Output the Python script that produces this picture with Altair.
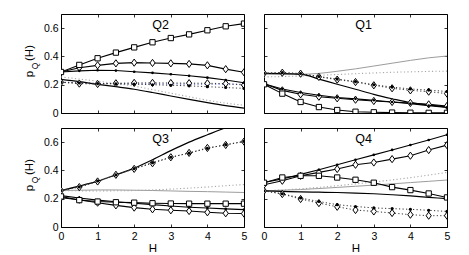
import altair as alt
import pandas as pd

# ---------------- data ----------------
H = [0, 0.5, 1, 1.5, 2, 2.5, 3, 3.5, 4, 4.5, 5]
X_TICKS = [0, 1, 2, 3, 4, 5]
Y_TICKS = [0, 0.2, 0.4, 0.6]
LABEL_H = 2.72
LABEL_V = 0.62

# Q2 (top-left)
q2_sq = [0.29, 0.34, 0.387, 0.427, 0.464, 0.50, 0.53, 0.556, 0.585, 0.613, 0.632]
q2_dm = [0.29, 0.32, 0.337, 0.351, 0.356, 0.354, 0.351, 0.347, 0.337, 0.31, 0.288]
q2_dt = [0.29, 0.298, 0.302, 0.30, 0.292, 0.284, 0.274, 0.263, 0.25, 0.233, 0.214]
q2_dm_dot = [0.217, 0.208, 0.205, 0.21, 0.213, 0.213, 0.212, 0.211, 0.21, 0.208, 0.198]
q2_dt_dot = [0.217, 0.212, 0.208, 0.206, 0.204, 0.2, 0.196, 0.192, 0.186, 0.18, 0.174]
q2_sm = [0.238, 0.222, 0.203, 0.186, 0.168, 0.145, 0.12, 0.096, 0.073, 0.052, 0.035]
q2_gr_dot = [0.255, 0.24, 0.225, 0.208, 0.19, 0.165, 0.14, 0.115, 0.09, 0.07, 0.055]
q2_bl_dot = [0.218, 0.214, 0.21, 0.208, 0.207, 0.206, 0.205, 0.204, 0.203, 0.203, 0.203]

# Q1 (top-right)
q1_sq = [0.203, 0.137, 0.078, 0.042, 0.021, 0.009, 0.005, 0.003, 0.002, 0.001, 0.001]
q1_dm = [0.207, 0.16, 0.132, 0.115, 0.104, 0.094, 0.085, 0.078, 0.071, 0.061, 0.05]
q1_dt = [0.207, 0.17, 0.145, 0.125, 0.11, 0.1, 0.09, 0.078, 0.066, 0.052, 0.04]
q1_dm_dot = [0.281, 0.285, 0.278, 0.255, 0.236, 0.219, 0.196, 0.175, 0.16, 0.151, 0.137]
q1_dt_dot = [0.281, 0.285, 0.279, 0.258, 0.24, 0.222, 0.2, 0.183, 0.17, 0.162, 0.152]
q1_sm = [0.28, 0.279, 0.275, 0.24, 0.203, 0.168, 0.132, 0.101, 0.073, 0.057, 0.042]
q1_gr = [0.275, 0.274, 0.274, 0.28, 0.295, 0.312, 0.332, 0.352, 0.372, 0.39, 0.403]
q1_gr_dot = [0.255, 0.258, 0.262, 0.267, 0.272, 0.278, 0.283, 0.288, 0.291, 0.294, 0.296]

# Q3 (bottom-left)
q3_sq = [0.216, 0.19, 0.18, 0.175, 0.172, 0.168, 0.166, 0.165, 0.165, 0.165, 0.165]
q3_dm = [0.207, 0.193, 0.172, 0.153, 0.137, 0.125, 0.118, 0.113, 0.104, 0.097, 0.095]
q3_dt = [0.222, 0.205, 0.19, 0.178, 0.168, 0.158, 0.148, 0.14, 0.134, 0.128, 0.123]
q3_dm_dot = [0.258, 0.282, 0.322, 0.369, 0.411, 0.451, 0.493, 0.524, 0.559, 0.58, 0.604]
q3_dt_dot = [0.258, 0.284, 0.325, 0.369, 0.413, 0.455, 0.493, 0.522, 0.556, 0.582, 0.606]
q3_sm = [0.258, 0.289, 0.324, 0.369, 0.416, 0.475, 0.54, 0.6, 0.652, 0.702, 0.745]
q3_gr = [0.258, 0.26, 0.262, 0.262, 0.26, 0.258, 0.255, 0.252, 0.25, 0.247, 0.244]
q3_gr_dot = [0.258, 0.256, 0.255, 0.256, 0.258, 0.262, 0.268, 0.275, 0.283, 0.292, 0.30]

# Q4 (bottom-right)
q4_sq = [0.313, 0.35, 0.362, 0.362, 0.35, 0.334, 0.313, 0.282, 0.261, 0.237, 0.209]
q4_dm = [0.299, 0.327, 0.362, 0.386, 0.41, 0.44, 0.456, 0.48, 0.504, 0.544, 0.579]
q4_dt = [0.315, 0.34, 0.372, 0.405, 0.44, 0.475, 0.51, 0.545, 0.58, 0.615, 0.652]
q4_dm_dot = [0.256, 0.233, 0.198, 0.169, 0.143, 0.12, 0.11, 0.099, 0.087, 0.08, 0.08]
q4_dt_dot = [0.256, 0.235, 0.205, 0.18, 0.158, 0.145, 0.135, 0.13, 0.125, 0.118, 0.11]
q4_sm = [0.256, 0.252, 0.248, 0.246, 0.244, 0.24, 0.235, 0.228, 0.22, 0.21, 0.2]
q4_gr = [0.256, 0.26, 0.265, 0.272, 0.28, 0.288, 0.296, 0.305, 0.314, 0.323, 0.332]
q4_gr_dot = [0.256, 0.262, 0.27, 0.28, 0.292, 0.305, 0.318, 0.333, 0.349, 0.367, 0.386]

PANELS = {
    "Q2": {"sq": q2_sq, "dm": q2_dm, "dt": q2_dt, "dm_dot": q2_dm_dot, "dt_dot": q2_dt_dot,
           "sm": q2_sm, "gr_dot": q2_gr_dot, "bl_dot": q2_bl_dot},
    "Q1": {"sq": q1_sq, "dm": q1_dm, "dt": q1_dt, "dm_dot": q1_dm_dot, "dt_dot": q1_dt_dot,
           "sm": q1_sm, "gr": q1_gr, "gr_dot": q1_gr_dot},
    "Q3": {"sq": q3_sq, "dm": q3_dm, "dt": q3_dt, "dm_dot": q3_dm_dot, "dt_dot": q3_dt_dot,
           "sm": q3_sm, "gr": q3_gr, "gr_dot": q3_gr_dot},
    "Q4": {"sq": q4_sq, "dm": q4_dm, "dt": q4_dt, "dm_dot": q4_dm_dot, "dt_dot": q4_dt_dot,
           "sm": q4_sm, "gr": q4_gr, "gr_dot": q4_gr_dot},
}

# ---------------- styles ----------------
FONT = "Liberation Sans"
BLACK = "#000000"
GRAY = "#9c9c9c"
GRAY_DOT = "#a8a8a8"
BLUE = "#5b6fd8"
DOT = [1.2, 2.3]
DIAMOND = "M0,-1L0.72,0L0,1L-0.72,0Z"
W, HT = 183, 99

LINE_ORDER = ["gr", "gr_dot", "bl_dot", "sm", "dm_dot", "dt_dot", "dt", "dm", "sq"]
SMOOTH = {"gr", "gr_dot", "bl_dot", "sm"}
LINE_STYLE = {
    "gr": dict(color=GRAY, strokeWidth=1.0),
    "gr_dot": dict(color=GRAY_DOT, strokeWidth=1.1, strokeDash=DOT),
    "bl_dot": dict(color=BLUE, strokeWidth=1.1, strokeDash=DOT),
    "sm": dict(color=BLACK, strokeWidth=1.2),
    "dm_dot": dict(color="#333333", strokeWidth=1.0, strokeDash=DOT),
    "dt_dot": dict(color="#333333", strokeWidth=1.0, strokeDash=DOT),
    "dt": dict(color=BLACK, strokeWidth=1.1),
    "dm": dict(color=BLACK, strokeWidth=1.1),
    "sq": dict(color=BLACK, strokeWidth=1.1),
}
POINT_ORDER = ["dm_dot", "dt_dot", "dm", "dt", "sq"]
POINT_STYLE = {
    "dm_dot": dict(shape=DIAMOND, size=52, filled=True, fill="white", stroke=BLACK, strokeWidth=1.0),
    "dt_dot": dict(shape="circle", size=10, filled=True, fill=BLACK, strokeWidth=0),
    "dm": dict(shape=DIAMOND, size=52, filled=True, fill="white", stroke=BLACK, strokeWidth=1.0),
    "dt": dict(shape="circle", size=7, filled=True, fill=BLACK, strokeWidth=0),
    "sq": dict(shape="square", size=28, filled=True, fill="white", stroke=BLACK, strokeWidth=1.0),
}

AX_COMMON = dict(domain=False, grid=False, ticks=True, tickSize=3, offset=-3,
                 tickColor=BLACK, tickWidth=0.8, labelFont=FONT, labelFontSize=10.5,
                 labelColor=BLACK, labelFlush=False, labelOverlap=False, format="~g",
                 titleFont=FONT, titleFontSize=11.5, titleFontWeight="normal",
                 titleColor=BLACK, minExtent=0)


def make_panel(name, xlab, ylab):
    data = PANELS[name]
    xs = alt.Scale(domain=[0, 5], nice=False, zero=False)
    ys = alt.Scale(domain=[0, 0.7], nice=False, zero=False)
    xax = alt.Axis(orient="bottom", values=X_TICKS, labels=xlab, labelPadding=4,
                   titlePadding=1, **AX_COMMON)
    yax = alt.Axis(orient="left", values=Y_TICKS, labels=ylab, labelPadding=3, **AX_COMMON)
    xtitle = "H" if xlab else None

    def enc(ch):
        return ch.encode(
            x=alt.X("H:Q", scale=xs, axis=xax, title=xtitle),
            y=alt.Y("v:Q", scale=ys, axis=yax, title=None),
        )

    layers = []
    for key in LINE_ORDER:
        if key in data:
            df = pd.DataFrame({"H": H, "v": data[key]})
            layers.append(enc(alt.Chart(df).mark_line(
                clip=True, interpolate=("monotone" if key in SMOOTH else "linear"),
                **LINE_STYLE[key])))
    for key in POINT_ORDER:
        if key in data:
            df = pd.DataFrame({"H": H, "v": data[key]})
            layers.append(enc(alt.Chart(df).mark_point(clip=True, opacity=1, **POINT_STYLE[key])))

    lab = pd.DataFrame({"H": [LABEL_H], "v": [LABEL_V], "t": [name]})
    layers.append(enc(alt.Chart(lab).mark_text(font=FONT, fontSize=12.5, color=BLACK)).encode(text="t:N"))

    if ylab:
        layers.append(alt.Chart(pd.DataFrame({"t": ["p"]})).mark_text(
            font=FONT, fontSize=11.5, angle=270, color=BLACK, align="center", baseline="middle"
        ).encode(x=alt.value(-31), y=alt.value(60), text="t:N"))
        layers.append(alt.Chart(pd.DataFrame({"t": ["Q"]})).mark_text(
            font=FONT, fontSize=8.5, angle=270, color=BLACK, align="center", baseline="middle"
        ).encode(x=alt.value(-26.5), y=alt.value(52), text="t:N"))
        layers.append(alt.Chart(pd.DataFrame({"t": ["(H)"]})).mark_text(
            font=FONT, fontSize=11.5, angle=270, color=BLACK, align="center", baseline="middle"
        ).encode(x=alt.value(-31), y=alt.value(39), text="t:N"))

    inner = alt.layer(*layers)

    top_ax = alt.Axis(orient="top", values=X_TICKS, labels=False, **AX_COMMON)
    right_ax = alt.Axis(orient="right", values=Y_TICKS, labels=False, **AX_COMMON)
    frame = alt.Chart(pd.DataFrame({"H": [0, 5], "v": [0, 0.7]})).mark_point(
        opacity=0, size=0, clip=True).encode(
        x=alt.X("H:Q", scale=xs, axis=top_ax, title=None),
        y=alt.Y("v:Q", scale=ys, axis=right_ax, title=None),
    )
    return alt.layer(inner, frame).resolve_axis(x="independent", y="independent").properties(
        width=W, height=HT)


p2 = make_panel("Q2", xlab=False, ylab=True)
p1 = make_panel("Q1", xlab=False, ylab=False)
p3 = make_panel("Q3", xlab=True, ylab=True)
p4 = make_panel("Q4", xlab=True, ylab=False)

chart = alt.concat(
    p2, p1, p3, p4,
    columns=2,
    spacing={"row": 15, "column": 20},
    bounds="flush",
).properties(
    padding={"left": 15, "top": 5, "right": 5, "bottom": 0},
    background="white",
).configure_view(stroke=BLACK, strokeWidth=1)

chart.save("out.html", embed_options={"renderer": "svg", "actions": False})
